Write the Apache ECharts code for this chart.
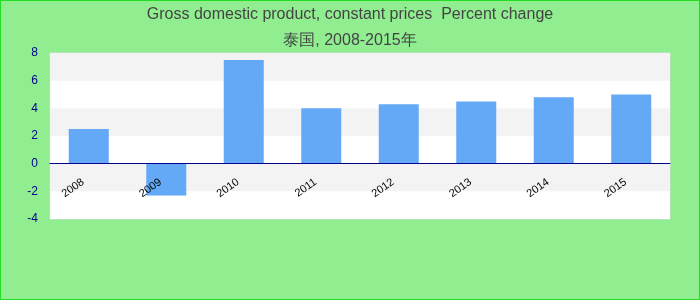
<!DOCTYPE html>
<html><head><meta charset="utf-8">
<script src="https://cdn.jsdelivr.net/npm/echarts@6/dist/echarts.min.js"></script>
<style>
html,body{margin:0;padding:0;background:#90EE90;}
#c{width:700px;height:300px;box-sizing:border-box;border:1px solid #22dd22;}
</style></head>
<body><div id="c"></div>
<script>
const titleLine1 = "Gross domestic product, constant prices  Percent change";
const titleLine2 = "泰国, 2008-2015年";
const categories = ["2008","2009","2010","2011","2012","2013","2014","2015"];
const values = [2.5, -2.3, 7.5, 4.0, 4.3, 4.5, 4.8, 5.0];
const yTicks = [-4, -2, 0, 2, 4, 6, 8];

const font = 'Liberation Sans, Arial, sans-serif';
const chart = echarts.init(document.getElementById('c'), null, {renderer:'canvas'});
chart.setOption({
  backgroundColor: '#90EE90',
  animation: false,
  title: [
    {text: titleLine1, left: 'center', top: 1, textStyle: {fontFamily: font, fontSize: 16, fontWeight: 'normal', color: '#444'}},
    {text: titleLine2, left: 'center', top: 27, textStyle: {fontFamily: font, fontSize: 16, fontWeight: 'normal', color: '#444'}}
  ],
  grid: {left: 49, right: 29, top: 52, bottom: 80, show: true, backgroundColor: '#fff', borderColor: '#d8d8d8', borderWidth: 1},
  xAxis: {
    type: 'category', data: categories, z: 5,
    axisLine: {onZero: true, lineStyle: {color: '#00008b', width: 1}},
    axisTick: {show: false},
    axisLabel: {rotate: 35, color: '#000', fontSize: 11, margin: -42, padding: [0, 7, 0, 0], fontFamily: font}
  },
  yAxis: {
    type: 'value', min: yTicks[0], max: yTicks[yTicks.length-1], interval: 2,
    axisLine: {show: false}, axisTick: {show: false},
    splitLine: {show: false},
    splitArea: {show: true, areaStyle: {color: ['#ffffff', '#f3f3f3']}},
    axisLabel: {color: '#00008b', fontSize: 12, margin: 12, fontFamily: font}
  },
  series: [{
    type: 'bar', data: values, barWidth: 40, z: 2,
    itemStyle: {color: '#63a9f5'}
  }]
});
</script></body></html>
